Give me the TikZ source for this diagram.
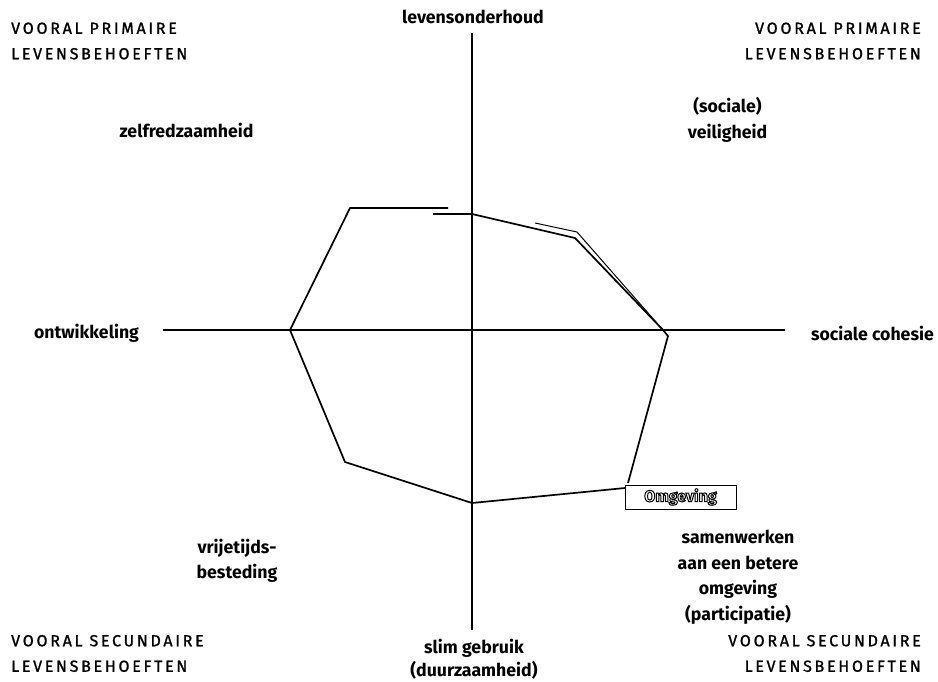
\documentclass[tikz,border=0pt]{standalone}
\usepackage{fontspec}
\setmainfont{Fira Sans}
\newfontfamily\capsfont[LetterSpace=17,FakeBold=1.2]{Fira Sans}
\newcommand{\hollowtext}[1]{\special{pdf:code q 1 Tr 1.0 w}#1\special{pdf:code Q}}
\begin{document}
\begin{tikzpicture}[x=1pt,y=-1pt,
  lbl/.style={font=\bfseries\fontsize{17.7}{25.5}\selectfont, align=center, inner sep=0pt},
  caps/.style={font=\capsfont\fontsize{16}{25.5}\selectfont, inner sep=0pt},
  axis/.style={line width=1.8pt},
  poly/.style={line width=1.7pt, line join=round}]
\useasboundingbox (0,0) rectangle (938,681);
% axes
\coordinate (atop) at (472,33);
\coordinate (abot) at (472,630);
\coordinate (aleft) at (163,330);
\coordinate (aright) at (785,330);
\draw[axis] (atop) -- (abot);
\draw[axis] (aleft) -- (aright);
% polygon vertices
\coordinate (p1) at (350,208);
\coordinate (p1b) at (448,208);
\coordinate (p2a) at (433,214);
\coordinate (p2) at (472,214);
\coordinate (p3) at (575,238);
\coordinate (p4) at (663,330);
\coordinate (p5) at (668,336);
\coordinate (p6) at (628,483);
\coordinate (p7) at (625,488);
\coordinate (p8) at (472,503);
\coordinate (p9) at (345,462);
\coordinate (p10) at (290,330);
\coordinate (q1) at (535,223);
\coordinate (q2) at (577,232);
\draw[poly] (p2a) -- (p2) -- (p3) -- (p4) -- (p5) -- (p6);
\draw[poly] (p7) -- (p8) -- (p9) -- (p10) -- (p1) -- (p1b);
\draw[line width=1pt] (q1) -- (q2) -- (p4);
% Omgeving box
\node[draw, line width=1pt, minimum width=111pt, minimum height=24pt, inner sep=0pt,
  font=\bfseries\fontsize{16}{18}\selectfont] (omg) at (680.5,497) {\hollowtext{Omgeving}};
% labels
\node[lbl] (lev) at (473,17) {levensonderhoud};
\node[lbl] (zel) at (186.5,130) {zelfredzaamheid};
\node[lbl] (soc) at (727.5,120) {(sociale)\\veiligheid};
\node[lbl] (ont) at (86.5,333) {ontwikkeling};
\node[lbl, anchor=east] (coh) at (934,333) {sociale cohesie};
\node[lbl] (vri) at (237,561) {vrijetijds-\\besteding};
\node[lbl] (sam) at (738,577) {samenwerken\\aan een betere\\omgeving\\(participatie)};
\node[lbl, font=\bfseries\fontsize{17.7}{23}\selectfont] (slim) at (474,659) {slim gebruik\\(duurzaamheid)};
\node[caps, anchor=west, align=left] (tl) at (11,41) {VOORAL PRIMAIRE\\LEVENSBEHOEFTEN};
\node[caps, anchor=east, align=right] (tr) at (921,41) {VOORAL PRIMAIRE\\LEVENSBEHOEFTEN};
\node[caps, anchor=west, align=left] (bl) at (11,653.5) {VOORAL SECUNDAIRE\\LEVENSBEHOEFTEN};
\node[caps, anchor=east, align=right] (br) at (921,653.5) {VOORAL SECUNDAIRE\\LEVENSBEHOEFTEN};
\end{tikzpicture}
\end{document}
